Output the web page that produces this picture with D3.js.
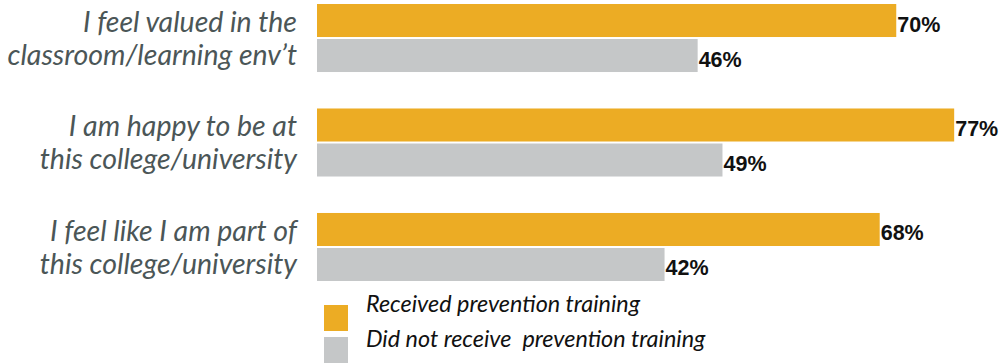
<!DOCTYPE html>
<html>
<head>
<meta charset="utf-8">
<script src="https://cdn.jsdelivr.net/npm/d3@7"></script>
<style>
  html, body { margin: 0; padding: 0; background: #ffffff; }
  svg { display: block; }
</style>
</head>
<body>
<svg id="chart" width="1002" height="363"></svg>
<script>
// Survey statements (two lines each) and percentages by training status
const categories = [
  "I feel valued in the|classroom/learning env\u2019t",
  "I am happy to be at|this college/university",
  "I feel like I am part of|this college/university"
];
const seriesNames = ["Received prevention training", "Did not receive  prevention training"];
const received = [70, 77, 68];
const notReceived = [46, 49, 42];
const colors = ["#ecac24", "#c5c7c8"];

const svg = d3.select("#chart");

const x = d3.scaleLinear().domain([0, 100]).range([317, 1144.5]);
const y = d3.scaleBand().domain(categories).range([4, 281]).paddingInner(0.349).paddingOuter(0);
const ySub = d3.scaleBand().domain(seriesNames).range([0, y.bandwidth()]).paddingInner(0.057);

const rows = categories.map((c, i) => ({
  cat: c,
  values: [
    { s: seriesNames[0], v: received[i], color: colors[0] },
    { s: seriesNames[1], v: notReceived[i], color: colors[1] }
  ]
}));

const groups = svg.selectAll("g.group")
  .data(rows)
  .join("g")
  .attr("class", "group")
  .attr("transform", d => `translate(0,${y(d.cat)})`);

groups.selectAll("rect")
  .data(d => d.values)
  .join("rect")
  .attr("x", x(0))
  .attr("y", d => ySub(d.s))
  .attr("width", d => x(d.v) - x(0))
  .attr("height", ySub.bandwidth())
  .attr("fill", d => d.color);

groups.selectAll("text.val")
  .data(d => d.values)
  .join("text")
  .attr("class", "val")
  .attr("x", d => x(d.v) + 1)
  .attr("y", d => ySub(d.s) + ySub.bandwidth() / 2 + 11)
  .attr("font-family", "'Liberation Sans', Arial, sans-serif")
  .attr("font-weight", "bold")
  .attr("font-size", 21.5)
  .attr("fill", "#111")
  .text(d => d.v + "%");

// Category labels, right aligned to the bars
groups.append("text")
  .attr("text-anchor", "end")
  .attr("font-family", "Lato, sans-serif")
  .attr("font-style", "italic")
  .attr("font-size", 28.5)
  .attr("fill", "#4b5657")
  .selectAll("tspan")
  .data(d => d.cat.split("|"))
  .join("tspan")
  .attr("x", 297)
  .attr("y", (d, i) => 28 + i * 33)
  .text(d => d);

// Legend
const legend = svg.append("g");
const legendRows = seriesNames.map((s, i) => ({ s, color: colors[i], i }));
legend.selectAll("rect")
  .data(legendRows)
  .join("rect")
  .attr("x", 324)
  .attr("y", d => 305 + d.i * 32)
  .attr("width", 24)
  .attr("height", 26)
  .attr("fill", d => d.color);
legend.selectAll("text")
  .data(legendRows)
  .join("text")
  .attr("x", 366)
  .attr("y", d => 312 + d.i * 35)
  .attr("font-family", "Lato, sans-serif")
  .attr("font-style", "italic")
  .attr("font-size", 23.4)
  .attr("fill", "#111")
  .attr("xml:space", "preserve")
  .style("white-space", "pre")
  .text(d => d.s);
</script>
</body>
</html>
